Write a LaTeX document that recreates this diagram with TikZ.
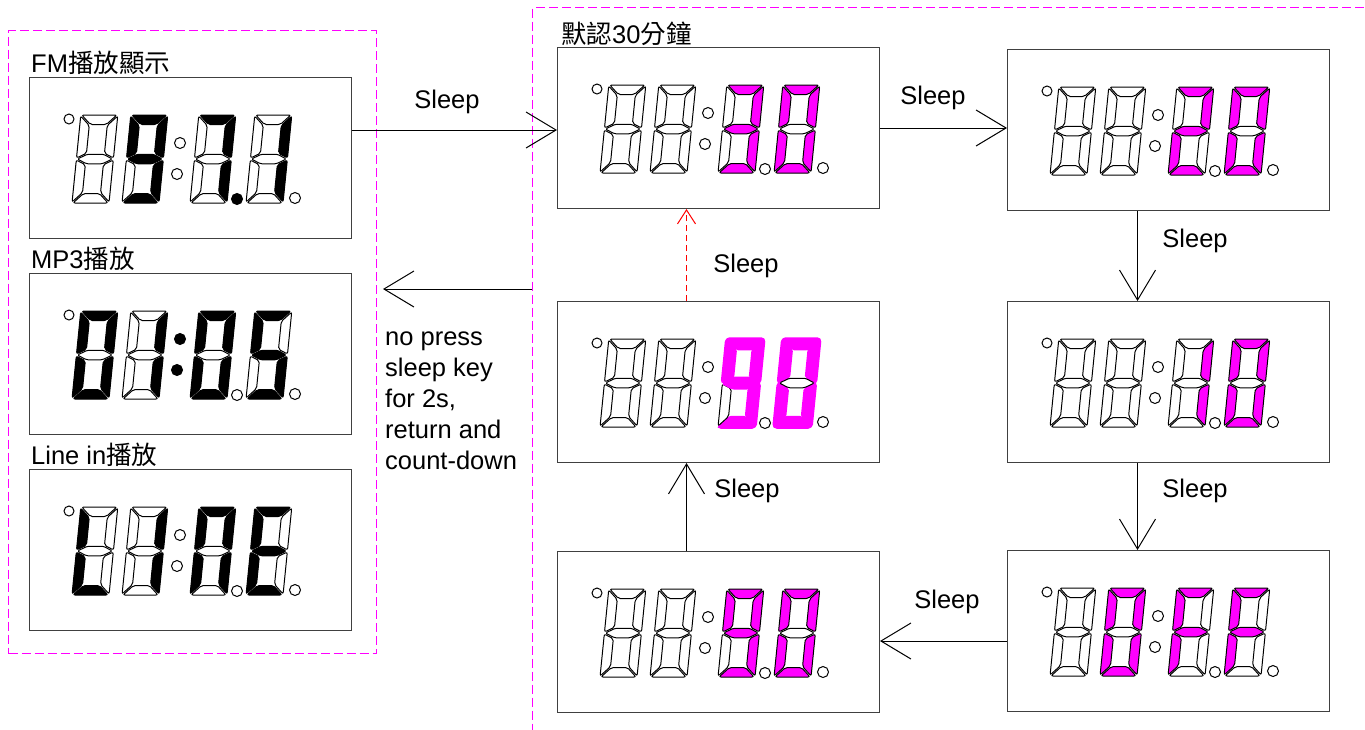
\documentclass[tikz,border=0pt]{standalone}
\usepackage{fontspec}
\setmainfont{Liberation Sans}
\newfontfamily\cjk{Noto Sans CJK TC}
\usetikzlibrary{arrows.meta}
\definecolor{mag}{RGB}{255,0,255}
\tikzset{
 box/.style={draw=black!75, line width=1pt, minimum width=322pt, minimum height=161pt, anchor=north west, inner sep=0pt},
 grp/.style={draw=mag, dash pattern=on 9pt off 4pt, line width=1pt, anchor=north west, inner sep=0pt},
 segO/.style={draw=black, fill=white, line width=1pt},
 segK/.style={draw=black, fill=black, line width=1pt},
 segM/.style={draw=black, fill=mag, line width=1pt},
 segB/.style={draw=mag, fill=mag, line width=3.5pt},
 dotc/.style={draw=black, fill=white, line width=1pt},
 arr/.style={line width=1pt, -{Straight Barb[length=30pt,width=36pt]}},
 sarr/.style={line width=1pt, -{Straight Barb[length=14pt,width=18pt]}},
 lbl/.style={font=\fontsize{25.5}{31}\selectfont, inner sep=0pt},
}
\newcommand\digparse[7]{%
 \path[seg#1,rounded corners=2pt] (1,88) -- (36,88) -- (26.5,78.5) -- (10.5,78.5) -- cycle;
 \path[seg#2,rounded corners=2pt] (37,87) -- (37,45) -- (27.5,49.75) -- (27.5,77.5) -- cycle;
 \path[seg#3,rounded corners=2pt] (37,43) -- (37,1) -- (27.5,10.5) -- (27.5,38.25) -- cycle;
 \path[seg#4,rounded corners=2pt] (1,0) -- (36,0) -- (26.5,9.5) -- (10.5,9.5) -- cycle;
 \path[seg#5,rounded corners=2pt] (0,43) -- (0,1) -- (9.5,10.5) -- (9.5,38.25) -- cycle;
 \path[seg#6,rounded corners=2pt] (0,87) -- (0,45) -- (9.5,49.75) -- (9.5,77.5) -- cycle;
 \path[seg#7,rounded corners=1.5pt] (1,44) -- (10.5,48.75) -- (26.5,48.75) -- (36,44) -- (26.5,39.25) -- (10.5,39.25) -- cycle;
}
\newcommand\digitat[2]{\begin{scope}[shift={(#1,-126)},xslant=0.1]\digparse#2\end{scope}}
\newcommand\display[7]{%
 \begin{scope}[shift={(#1.north west)}]
  \draw[dotc] (40,-42) circle (5);
  \draw[dotc,#2] (151,-66) circle (5.5);
  \draw[dotc,#2] (148,-97) circle (5.5);
  \draw[dotc,#3] (208,-122) circle (5.5);
  \draw[dotc] (266,-121) circle (5.5);
  \digitat{43}{#4}\digitat{93}{#5}\digitat{161}{#6}\digitat{217}{#7}
 \end{scope}}
\begin{document}
\begin{tikzpicture}[x=1pt,y=1pt]
\clip (0,0) rectangle (1365,-729);
\fill[white] (0,0) rectangle (1365,-729);
% group frames
\node[grp, minimum width=368pt, minimum height=623pt] (gl) at (8,-30) {};
\node[grp, minimum width=845pt, minimum height=740pt] (gr) at (532,-7) {};
% boxes
\node[box] (fm) at (29,-77) {};
\node[box] (mp3) at (29,-273) {};
\node[box] (lin) at (29,-469) {};
\node[box] (b30) at (557,-47) {};
\node[box] (b20) at (1007,-49) {};
\node[box] (b00) at (557,-301) {};
\node[box] (b10) at (1007,-301) {};
\node[box] (b90) at (557,-551) {};
\node[box] (boff) at (1007,-550) {};
% titles
\node[lbl, anchor=base west] (tfm) at (31,-72) {FM{\cjk 播放顯示}};
\node[lbl, anchor=base west] (tmp3) at (31,-268) {MP3{\cjk 播放}};
\node[lbl, anchor=base west] (tlin) at (31,-464) {Line in{\cjk 播放}};
\node[lbl, anchor=base west] (tdef) at (561,-43) {{\cjk 默認}30{\cjk 分鐘}};
% displays
\display{fm}{}{fill=black}{OOOOOOO}{KKKKOKK}{KKKOOOO}{OKKOOOO}
\display{mp3}{fill=black}{}{KKKKKKO}{OKKOOOO}{KKKKKKO}{KOKKOKK}
\display{lin}{}{}{OOOKKKO}{OKKOOOO}{KKKOKKO}{KOOKKKK}
\display{b30}{}{}{OOOOOOO}{OOOOOOO}{MMMMOOM}{MMMMMMO}
\display{b20}{}{}{OOOOOOO}{OOOOOOO}{MMOMMOM}{MMMMMMO}
\display{b10}{}{}{OOOOOOO}{OOOOOOO}{OMMOOOO}{MMMMMMO}
\display{boff}{}{}{OOOOOOO}{MMMMMMO}{MOOOMMM}{MOOOMMM}
\display{b90}{}{}{OOOOOOO}{OOOOOOO}{MMMMOMM}{MMMMMMO}
\display{b00}{}{}{OOOOOOO}{OOOOOOO}{BBBBOBB}{BBBBBBO}
% connectors
\coordinate (a1) at ([yshift=-53pt]fm.north east);
\draw[arr] (a1) -- (a1 -| b30.west);
\draw[arr] (b30.east) -- (b30.east -| b20.west);
\coordinate (a3) at ([xshift=-31pt]b20.south);
\draw[arr] (a3) -- (a3 |- b10.north);
\coordinate (a4) at ([xshift=-31pt]b10.south);
\draw[arr] (a4) -- (a4 |- boff.north);
\coordinate (a5) at ([yshift=-10pt]boff.west);
\draw[arr] (a5) -- (a5 -| b90.east);
\coordinate (a6) at ([xshift=-32pt]b90.north);
\draw[arr] (a6) -- (a6 |- b00.south);
\coordinate (a7) at ([xshift=-32pt]b00.north);
\draw[sarr, red, dash pattern=on 6pt off 4pt] (a7) -- (a7 |- b30.south);
\coordinate (ret) at (383,-289);
\draw[arr] (gr.west |- ret) -- (ret);
% labels
\node[lbl] (s1) at (447,-102) {Sleep};
\node[lbl] (s2) at (933,-98) {Sleep};
\node[lbl] (s3) at (1195,-241) {Sleep};
\node[lbl] (s4) at (1195,-491) {Sleep};
\node[lbl] (s5) at (947,-602) {Sleep};
\node[lbl] (s6) at (747,-491) {Sleep};
\node[lbl] (s7) at (746,-266) {Sleep};
\node[lbl, align=left, anchor=north west] (note) at (385,-331.5) {no press\\sleep key\\for 2s,\\return and\\count-down};
\end{tikzpicture}
\end{document}
